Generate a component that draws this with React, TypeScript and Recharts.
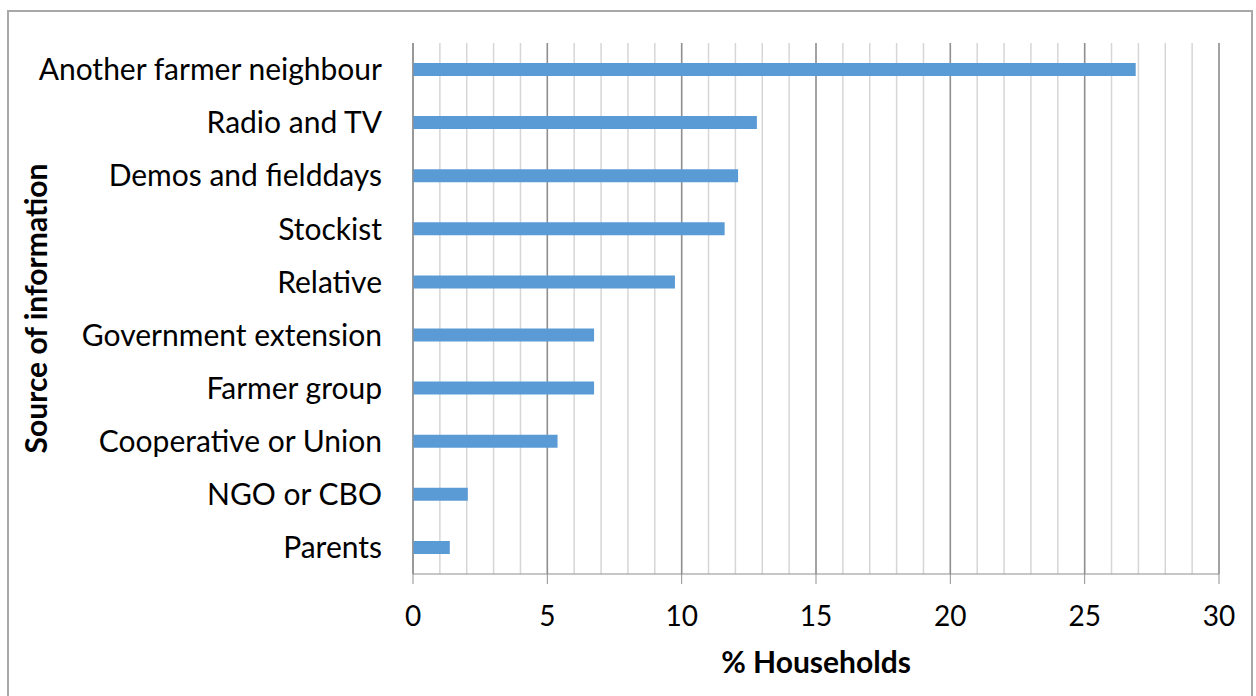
import { BarChart, Bar, XAxis, YAxis, CartesianGrid, Label } from "recharts";

const sources = [
  "Another farmer neighbour",
  "Radio and TV",
  "Demos and fielddays",
  "Stockist",
  "Relative",
  "Government extension",
  "Farmer group",
  "Cooperative or Union",
  "NGO or CBO",
  "Parents",
];
const households = [26.9, 12.8, 12.1, 11.6, 9.75, 6.74, 6.74, 5.38, 2.04, 1.37];
const majorTicks = [0, 5, 10, 15, 20, 25, 30];
const minorTicks = [
  0, 1, 2, 3, 4, 5, 6, 7, 8, 9, 10, 11, 12, 13, 14, 15, 16, 17, 18, 19, 20, 21,
  22, 23, 24, 25, 26, 27, 28, 29, 30,
];

const data = sources.map((source, i) => ({ source, value: households[i] }));

const FONT = "Lato, 'Open Sans', sans-serif";

function App() {
  return (
    <div style={{ position: "relative", width: 1256, height: 696, overflow: "hidden" }}>
      <style>{`body{margin:0}`}</style>
      <div
        style={{
          position: "absolute",
          left: 7,
          top: 10,
          width: 1242,
          height: 800,
          border: "2px solid #a8a8a8",
        }}
      />
      <div style={{ position: "absolute", left: 0, top: 0 }}>
        <BarChart
          layout="vertical"
          width={1256}
          height={696}
          data={data}
          margin={{ top: 43, right: 37, bottom: 62, left: 0 }}
          barCategoryGap={0}
        >
          <CartesianGrid
            horizontal={false}
            verticalValues={minorTicks}
            stroke="#d6d6d6"
            strokeWidth={1.5}
          />
          <CartesianGrid
            horizontal={false}
            verticalValues={majorTicks}
            stroke="#8f8f8f"
            strokeWidth={1.5}
          />
          <XAxis
            type="number"
            domain={[0, 30]}
            ticks={majorTicks}
            height={60}
            tickSize={10}
            tickMargin={22}
            stroke="#8f8f8f"
            tick={{ fill: "#000", fontSize: 28, fontFamily: FONT }}
          >
            <Label
              content={({ viewBox }: any) => (
                <text
                  x={viewBox.x + viewBox.width / 2}
                  y={viewBox.y + 99}
                  textAnchor="middle"
                  fontFamily={FONT}
                  fontWeight="bold"
                  fontSize={30}
                  fill="#000"
                >
                  % Households
                </text>
              )}
            />
          </XAxis>
          <YAxis
            type="category"
            dataKey="source"
            width={413}
            tickLine={false}
            tickSize={0}
            tickMargin={31}
            stroke="#8f8f8f"
            tick={{ fill: "#000", fontSize: 30, fontFamily: FONT }}
          >
            <Label
              content={({ viewBox }: any) => {
                const cy = viewBox.y + viewBox.height / 2;
                return (
                  <text
                    x={47}
                    y={cy}
                    transform={`rotate(-90 47 ${cy})`}
                    textAnchor="middle"
                    fontFamily={FONT}
                    fontWeight="bold"
                    fontSize={30}
                    fill="#000"
                  >
                    Source of information
                  </text>
                );
              }}
            />
          </YAxis>
          <Bar dataKey="value" fill="#5b9bd5" barSize={13} isAnimationActive={false} />
        </BarChart>
      </div>
    </div>
  );
}

export default App;
